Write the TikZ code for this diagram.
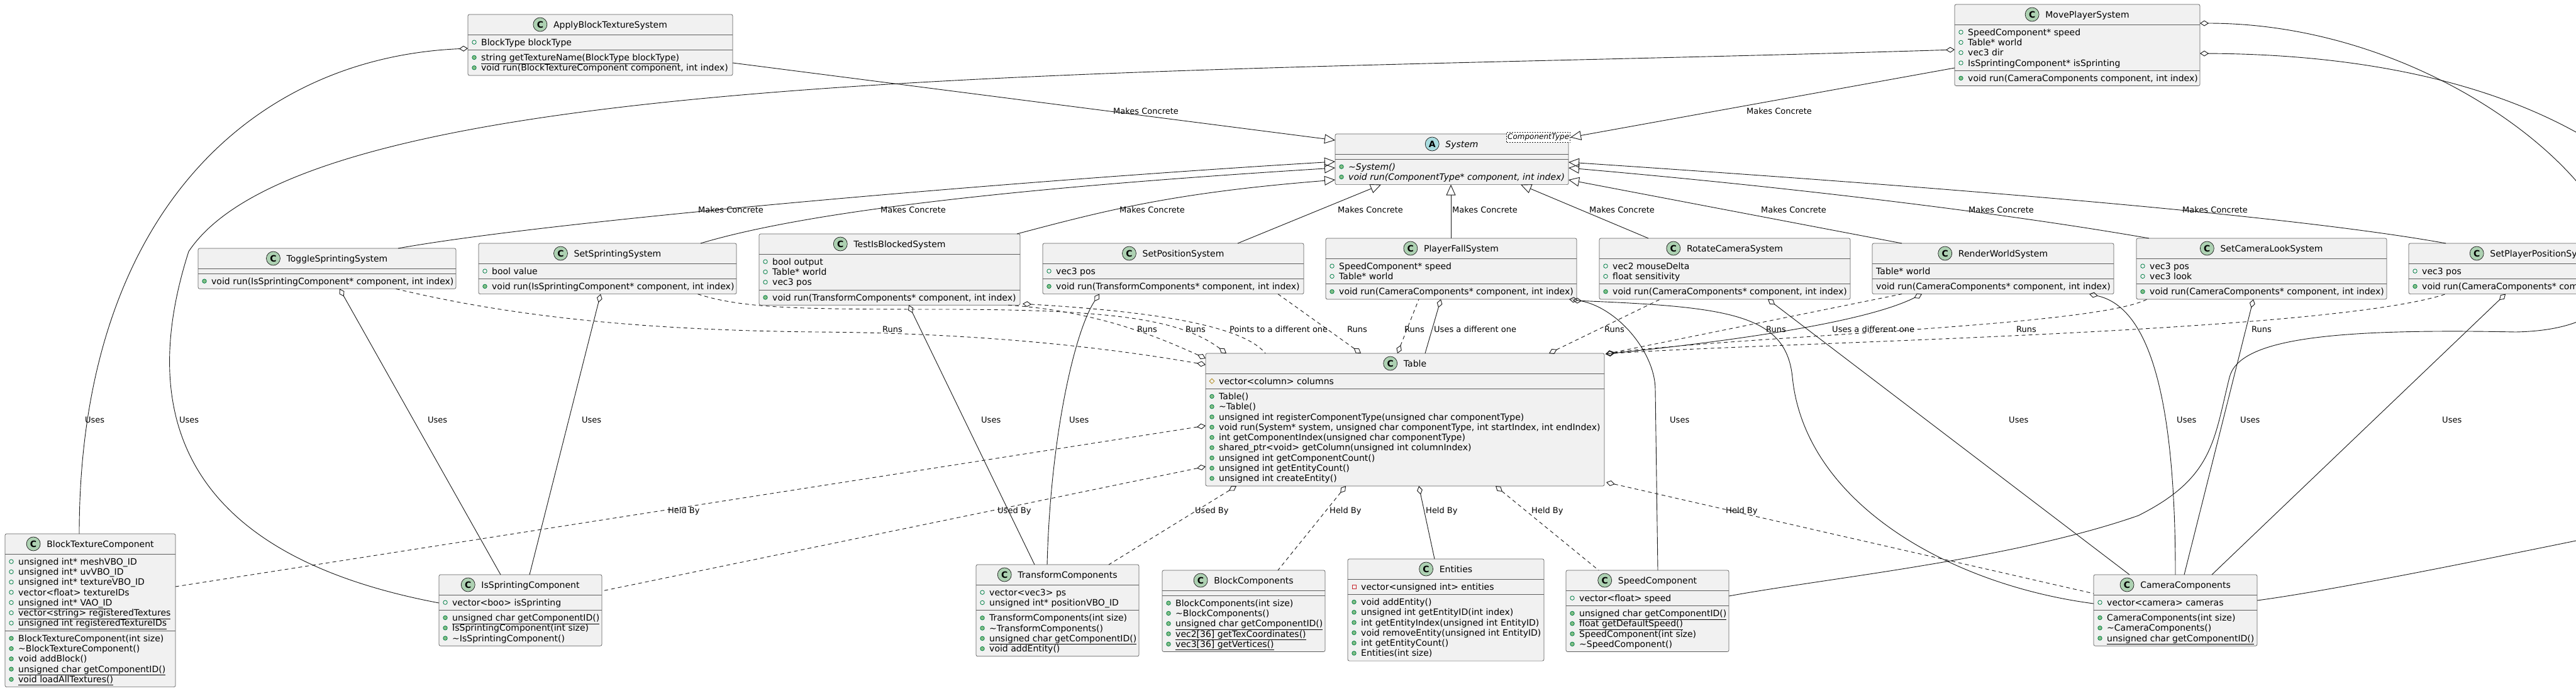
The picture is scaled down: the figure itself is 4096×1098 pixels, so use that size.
\documentclass[tikz,border=0pt]{standalone}
\usepackage{fontspec}
\setmainfont{DejaVu Sans}
\usetikzlibrary{arrows.meta,calc}
\definecolor{boxfill}{HTML}{F1F1F1}
\definecolor{boxline}{HTML}{181818}
\definecolor{cicon}{HTML}{ADD1B2}
\definecolor{aicon}{HTML}{A9DCDF}
\definecolor{publine}{HTML}{038048}
\definecolor{pubfill}{HTML}{84BE84}
\definecolor{privline}{HTML}{C82930}
\definecolor{protline}{HTML}{B38D22}
\newcounter{mrc}
\tikzset{
  classbox/.style={draw=boxline!70, fill=boxfill, line width=0.7pt, rounded corners=2.5pt, inner sep=0pt, outer sep=0pt},
  sepline/.style={draw=boxline!70, line width=0.7pt},
  ttl/.style={font=\fontsize{14}{16}\selectfont, inner sep=0pt, anchor=base},
  mem/.style={font=\fontsize{14}{16}\selectfont, inner sep=0pt, anchor=base west},
  lbl/.style={font=\fontsize{13}{15}\selectfont, inner sep=0pt, anchor=base west},
  iconc/.style={circle, draw=boxline, line width=0.7pt, minimum size=22pt, inner sep=0pt, font=\bfseries\fontsize{14}{14}\selectfont},
  ipa/.style={circle, draw=publine, line width=0.8pt, minimum size=6.5pt, inner sep=0pt},
  ipm/.style={circle, draw=publine, fill=pubfill, line width=0.8pt, minimum size=6.5pt, inner sep=0pt},
  iva/.style={rectangle, draw=privline, line width=0.8pt, minimum size=6pt, inner sep=0pt},
  ira/.style={rectangle, rotate=45, draw=protline, line width=0.8pt, minimum size=5.5pt, inner sep=0pt},
  tplbox/.style={draw=boxline, dash pattern=on 2pt off 2pt, fill=white, anchor=north east, inner xsep=1.5pt, inner ysep=2.5pt, font=\itshape\fontsize{12}{13}\selectfont, line width=0.6pt},
  conn/.style={draw=boxline, line width=0.9pt},
  dsh/.style={dash pattern=on 6pt off 5pt},
  real/.style={conn, -{Triangle[open, length=17pt, width=15pt]}},
  aggr/.style={conn, {Diamond[open, length=14pt, width=9pt]}-},
}
\newcommand{\umlbox}[6]{%
  \pgfmathsetmacro{\ubh}{48+16.3*(#5+#6)}%
  \pgfmathsetmacro{\ubs}{#3+32}%
  \pgfmathsetmacro{\ubt}{#3+40+16.3*#5}%
  \node[classbox, minimum width=#4pt, minimum height=\ubh pt, anchor=north west] (#1) at (#2,#3) {};
  \draw[sepline] (#2,\ubs) -- ++(#4,0);
  \draw[sepline] (#2,\ubt) -- ++(#4,0);
}
\newcommand{\utitle}[4]{%
  \node[ttl] (#1t) at ($(#1.north)+(16,21)$) {#4};
  \node[iconc, fill=#3] (#1c) at ($(#1t.base west)+(-21,-5)$) {#2};
}
\newcommand{\mrow}[4]{%
  \stepcounter{mrc}%
  \node[mem] (m\arabic{mrc}) at ($(#1.north west)+(21,#2+5)$) {#4};
  \node[#3] (i\arabic{mrc}) at ($(#1.north west)+(10,#2)$) {};
}
\newcommand{\prow}[3]{%
  \stepcounter{mrc}%
  \node[mem] (m\arabic{mrc}) at ($(#1.north west)+(6,#2+5)$) {#3};
}
\begin{document}
\begin{tikzpicture}[x=1pt,y=-1pt]
\useasboundingbox (0,0) rectangle (4096,1098);
\clip (0,0) rectangle (4096,1098);
\fill[white] (0,0) rectangle (4096,1098);

% ---------- classes ----------
\umlbox{abt}{744}{23}{421}{1}{2}
\utitle{abt}{C}{cicon}{ApplyBlockTextureSystem}
\mrow{abt}{44.15}{ipa}{BlockType blockType}
\mrow{abt}{68.45}{ipm}{\underline{string getTextureName(BlockType blockType)}}
\mrow{abt}{84.75}{ipm}{void run(BlockTextureComponent component, int index)}

\umlbox{mps}{3108}{7}{390}{4}{1}
\utitle{mps}{C}{cicon}{MovePlayerSystem}
\mrow{mps}{44.15}{ipa}{SpeedComponent* speed}
\mrow{mps}{60.45}{ipa}{Table* world}
\mrow{mps}{76.75}{ipa}{vec3 dir}
\mrow{mps}{93.05}{ipa}{IsSprintingComponent* isSprinting}
\mrow{mps}{117.35}{ipm}{void run(CameraComponents component, int index)}

\umlbox{sys}{2123}{213}{371}{0}{2}
\utitle{sys}{A}{aicon}{\itshape System}
\mrow{sys}{52.15}{ipm}{\itshape\textasciitilde System()}
\mrow{sys}{68.45}{ipm}{\itshape void run(ComponentType* component, int index)}
\node[tplbox] (systpl) at ($(sys.north east)+(3,-3)$) {ComponentType};

\umlbox{tss}{315}{395}{410}{0}{1}
\utitle{tss}{C}{cicon}{ToggleSprintingSystem}
\mrow{tss}{52.15}{ipm}{void run(IsSprintingComponent* component, int index)}

\umlbox{sss}{761}{387}{410}{1}{1}
\utitle{sss}{C}{cicon}{SetSprintingSystem}
\mrow{sss}{44.15}{ipa}{bool value}
\mrow{sss}{68.45}{ipm}{void run(IsSprintingComponent* component, int index)}

\umlbox{tib}{1207}{372}{415}{3}{1}
\utitle{tib}{C}{cicon}{TestIsBlockedSystem}
\mrow{tib}{44.15}{ipa}{bool output}
\mrow{tib}{60.45}{ipa}{Table* world}
\mrow{tib}{76.75}{ipa}{vec3 pos}
\mrow{tib}{101.05}{ipm}{void run(TransformComponents* component, int index)}

\umlbox{sps}{1658}{387}{415}{1}{1}
\utitle{sps}{C}{cicon}{SetPositionSystem}
\mrow{sps}{44.15}{ipa}{vec3 pos}
\mrow{sps}{68.45}{ipm}{void run(TransformComponents* component, int index)}

\umlbox{pfs}{2108}{379}{399}{2}{1}
\utitle{pfs}{C}{cicon}{PlayerFallSystem}
\mrow{pfs}{44.15}{ipa}{SpeedComponent* speed}
\mrow{pfs}{60.45}{ipa}{Table* world}
\mrow{pfs}{84.75}{ipm}{void run(CameraComponents* component, int index)}

\umlbox{rcs}{2543}{379}{399}{2}{1}
\utitle{rcs}{C}{cicon}{RotateCameraSystem}
\mrow{rcs}{44.15}{ipa}{vec2 mouseDelta}
\mrow{rcs}{60.45}{ipa}{float sensitivity}
\mrow{rcs}{84.75}{ipm}{void run(CameraComponents* component, int index)}

\umlbox{rws}{2977}{387}{384}{1}{1}
\utitle{rws}{C}{cicon}{RenderWorldSystem}
\prow{rws}{44.15}{Table* world}
\prow{rws}{68.45}{void run(CameraComponents* component, int index)}

\umlbox{scl}{3397}{379}{398}{2}{1}
\utitle{scl}{C}{cicon}{SetCameraLookSystem}
\mrow{scl}{44.15}{ipa}{vec3 pos}
\mrow{scl}{60.45}{ipa}{vec3 look}
\mrow{scl}{84.75}{ipm}{void run(CameraComponents* component, int index)}

\umlbox{spp}{3830}{387}{400}{1}{1}
\utitle{spp}{C}{cicon}{SetPlayerPositionSystem}
\mrow{spp}{44.15}{ipa}{vec3 pos}
\mrow{spp}{68.45}{ipm}{void run(CameraComponents* component, int index)}

\umlbox{tbl}{1917}{562}{634}{1}{9}
\utitle{tbl}{C}{cicon}{Table}
\mrow{tbl}{44.15}{ira}{vector<column> columns}
\mrow{tbl}{68.45}{ipm}{Table()}
\mrow{tbl}{84.75}{ipm}{\textasciitilde Table()}
\mrow{tbl}{101.05}{ipm}{unsigned int registerComponentType(unsigned char componentType)}
\mrow{tbl}{117.35}{ipm}{void run(System* system, unsigned char componentType, int startIndex, int endIndex)}
\mrow{tbl}{133.65}{ipm}{int getComponentIndex(unsigned char componentType)}
\mrow{tbl}{149.95}{ipm}{shared\_ptr<void> getColumn(unsigned int columnIndex)}
\mrow{tbl}{166.25}{ipm}{unsigned int getComponentCount()}
\mrow{tbl}{182.55}{ipm}{unsigned int getEntityCount()}
\mrow{tbl}{198.85}{ipm}{unsigned int createEntity()}

\umlbox{btc}{8}{849}{271}{7}{5}
\utitle{btc}{C}{cicon}{BlockTextureComponent}
\mrow{btc}{44.15}{ipa}{unsigned int* meshVBO\_ID}
\mrow{btc}{60.45}{ipa}{unsigned int* uvVBO\_ID}
\mrow{btc}{76.75}{ipa}{unsigned int* textureVBO\_ID}
\mrow{btc}{93.05}{ipa}{vector<float> textureIDs}
\mrow{btc}{109.35}{ipa}{\underline{unsigned int* VAO\_ID}}
\mrow{btc}{125.65}{ipa}{\underline{vector<string> registeredTextures}}
\mrow{btc}{141.95}{ipa}{\underline{unsigned int registeredTextureIDs}}
\mrow{btc}{166.25}{ipm}{BlockTextureComponent(int size)}
\mrow{btc}{182.55}{ipm}{\textasciitilde BlockTextureComponent()}
\mrow{btc}{198.85}{ipm}{void addBlock()}
\mrow{btc}{215.15}{ipm}{\underline{unsigned char getComponentID()}}
\mrow{btc}{231.45}{ipm}{\underline{void loadAllTextures()}}

\umlbox{isc}{698}{914}{259}{1}{3}
\utitle{isc}{C}{cicon}{IsSprintingComponent}
\mrow{isc}{44.15}{ipa}{vector<boo> isSprinting}
\mrow{isc}{68.45}{ipm}{\underline{unsigned char getComponentID()}}
\mrow{isc}{84.75}{ipm}{IsSprintingComponent(int size)}
\mrow{isc}{101.05}{ipm}{\textasciitilde IsSprintingComponent()}

\umlbox{tfc}{1552}{898}{259}{2}{4}
\utitle{tfc}{C}{cicon}{TransformComponents}
\mrow{tfc}{44.15}{ipa}{vector<vec3> ps}
\mrow{tfc}{60.45}{ipa}{unsigned int* positionVBO\_ID}
\mrow{tfc}{84.75}{ipm}{TransformComponents(int size)}
\mrow{tfc}{101.05}{ipm}{\textasciitilde TransformComponents()}
\mrow{tfc}{117.35}{ipm}{\underline{unsigned char getComponentID()}}
\mrow{tfc}{133.65}{ipm}{void addEntity()}

\umlbox{bkc}{1848}{907}{259}{0}{5}
\utitle{bkc}{C}{cicon}{BlockComponents}
\mrow{bkc}{52.15}{ipm}{BlockComponents(int size)}
\mrow{bkc}{68.45}{ipm}{\textasciitilde BlockComponents()}
\mrow{bkc}{84.75}{ipm}{\underline{unsigned char getComponentID()}}
\mrow{bkc}{101.05}{ipm}{\underline{vec2[36] getTexCoordinates()}}
\mrow{bkc}{117.35}{ipm}{\underline{vec3[36] getVertices()}}

\umlbox{ent}{2143}{889}{312}{1}{6}
\utitle{ent}{C}{cicon}{Entities}
\mrow{ent}{44.15}{iva}{vector<unsigned int> entities}
\mrow{ent}{68.45}{ipm}{void addEntity()}
\mrow{ent}{84.75}{ipm}{unsigned int getEntityID(int index)}
\mrow{ent}{101.05}{ipm}{int getEntityIndex(unsigned int EntityID)}
\mrow{ent}{117.35}{ipm}{void removeEntity(unsigned int EntityID)}
\mrow{ent}{133.65}{ipm}{int getEntityCount()}
\mrow{ent}{149.95}{ipm}{Entities(int size)}

\umlbox{spc}{2490}{907}{259}{1}{4}
\utitle{spc}{C}{cicon}{SpeedComponent}
\mrow{spc}{44.15}{ipa}{vector<float> speed}
\mrow{spc}{68.45}{ipm}{\underline{unsigned char getComponentID()}}
\mrow{spc}{84.75}{ipm}{\underline{float getDefaultSpeed()}}
\mrow{spc}{101.05}{ipm}{SpeedComponent(int size)}
\mrow{spc}{117.35}{ipm}{\textasciitilde SpeedComponent()}

\umlbox{cam}{3329}{914}{260}{1}{3}
\utitle{cam}{C}{cicon}{CameraComponents}
\mrow{cam}{44.15}{ipa}{vector<camera> cameras}
\mrow{cam}{68.45}{ipm}{CameraComponents(int size)}
\mrow{cam}{84.75}{ipm}{\textasciitilde CameraComponents()}
\mrow{cam}{101.05}{ipm}{\underline{unsigned char getComponentID()}}

% ---------- Makes Concrete ----------
\draw[real] ($(abt.north east)+(0,77)$) -- ($(sys.north west)+(0,10)$);
\draw[real] ($(mps.north west)+(0,101)$) -- (systpl.east);
\draw[real] ($(tss.north west)+(318,0)$) .. controls +(250,-45) and +(-500,30) .. ($(sys.north west)+(0,44)$);
\draw[real] ($(sss.north west)+(353,0)$) .. controls +(200,-60) and +(-400,25) .. ($(sys.north west)+(0,54)$);
\draw[real] ($(tib.north west)+(410,0)$) .. controls +(150,-40) and +(-250,20) .. ($(sys.north west)+(0,73)$);
\draw[real] ($(sps.north west)+(310,0)$) -- ($(sys.south west)+(73,0)$);
\draw[real] ($(pfs.north west)+(199,0)$) -- ($(sys.south west)+(184,0)$);
\draw[real] ($(rcs.north west)+(78,0)$) -- ($(sys.south west)+(295,0)$);
\draw[real] ($(rws.north west)+(47,0)$) -- ($(sys.north east)+(0,73)$);
\draw[real] ($(scl.north west)+(20,0)$) .. controls +(-200,-35) and +(400,35) .. ($(sys.north east)+(0,54)$);
\draw[real] ($(spp.north west)+(59,0)$) .. controls +(-250,-45) and +(600,40) .. ($(sys.north east)+(0,45)$);

% ---------- Uses (aggregation) ----------
\draw[aggr] ($(abt.north west)+(0,54)$) .. controls +(-350,15) and +(0,-500) .. ($(btc.north west)+(118,0)$);
\draw[aggr] ($(mps.north west)+(0,72)$) .. controls (1800,120) and (500,100) .. (300,400) .. controls (220,650) and (280,880) .. ($(isc.north west)+(0,45)$);
\draw[aggr] ($(mps.north east)+(0,30)$) .. controls (4000,37) and (4400,520) .. (4000,528) .. controls (3700,522) and (3560,540) .. (3545,600) .. controls (3520,700) and (3520,760) .. (3400,820) .. controls (3200,890) and (2900,920) .. ($(spc.north east)+(0,41)$);
\draw[aggr] ($(mps.north east)+(0,78)$) .. controls (4500,90) and (4500,800) .. (4096,860) .. controls (3900,900) and (3700,940) .. ($(cam.north east)+(0,41)$);
\draw[aggr] ($(tss.south west)+(225,0)$) -- ($(isc.north west)+(98,0)$);
\draw[aggr] ($(sss.south west)+(194,0)$) -- ($(isc.north west)+(144,0)$);
\draw[aggr] ($(tib.south west)+(238,0)$) -- ($(tfc.north west)+(93,0)$);
\draw[aggr] ($(sps.south west)+(90,0)$) .. controls +(-40,60) and +(5,-200) .. ($(tfc.north west)+(113,0)$);
\draw[aggr] ($(pfs.south east)+(-12,0)$) .. controls +(75,10) and +(0,-60) .. (2632,620) -- ($(spc.north west)+(146,0)$);
\draw[aggr] ($(pfs.south east)+(-6,2)$) .. controls (2750,488) and (2840,500) .. (2850,600) .. controls (2870,800) and (3100,930) .. ($(cam.north west)+(0,46)$);
\draw[aggr] ($(rcs.south west)+(268,0)$) -- ($(cam.north west)+(57,0)$);
\draw[aggr] ($(rws.south west)+(345,0)$) .. controls +(90,20) and +(0,-300) .. ($(cam.north west)+(130,0)$);
\draw[aggr] ($(scl.south west)+(186,0)$) -- ($(cam.north west)+(144,0)$);
\draw[aggr] ($(spp.south west)+(154,0)$) -- ($(cam.north west)+(188,0)$);
\draw[aggr] ($(pfs.south west)+(183,0)$) -- ($(tbl.north west)+(349,0)$);
\draw[aggr] ($(rws.south west)+(79,0)$) .. controls +(-100,50) and +(150,-15) .. ($(tbl.north east)+(2,1)$);
\draw[aggr, dsh] ($(tib.south east)+(4,-2)$) .. controls +(170,10) and +(-40,-50) .. ($(tbl.north west)+(95,0)$);

% ---------- Runs ----------
\draw[aggr, dsh] ($(tbl.north west)+(0,18)$) .. controls (1800,560) and (1600,530) .. (1300,528) .. controls (1000,525) and (800,500) .. ($(tss.south west)+(314,0)$);
\draw[aggr, dsh] ($(tbl.north west)+(33,0)$) .. controls (1880,510) and (1780,492) .. (1500,492) .. controls (1260,492) and (1180,490) .. ($(sss.south west)+(348,0)$);
\draw[aggr, dsh] ($(tbl.north west)+(0,8)$) .. controls (1850,540) and (1750,495) .. ($(tib.south west)+(395,0)$);
\draw[aggr, dsh] ($(tbl.north west)+(247,0)$) -- ($(sps.south west)+(374,0)$);
\draw[aggr, dsh] ($(tbl.north west)+(305,0)$) -- ($(pfs.south west)+(148,0)$);
\draw[aggr, dsh] ($(tbl.north west)+(546,0)$) -- ($(rcs.south west)+(97,0)$);
\draw[aggr, dsh] ($(tbl.north east)+(2,1)$) -- ($(rws.south west)+(47,0)$);
\draw[aggr, dsh] ($(tbl.north east)+(2,1)$) .. controls (2750,535) and (3330,520) .. ($(scl.south west)+(17,0)$);
\draw[aggr, dsh] ($(tbl.north east)+(2,1)$) .. controls (2800,545) and (3700,530) .. ($(spp.south west)+(59,0)$);

% ---------- Held By / Used By ----------
\draw[aggr, dsh] ($(tbl.north west)+(0,115)$) -- ($(btc.north east)+(0,84)$);
\draw[aggr, dsh] ($(tbl.north west)+(0,180)$) -- ($(isc.north east)+(0,26)$);
\draw[aggr, dsh] ($(tbl.south west)+(49,0)$) -- ($(tfc.north west)+(211,0)$);
\draw[aggr, dsh] ($(tbl.south west)+(223,0)$) -- ($(bkc.north west)+(184,0)$);
\draw[aggr] ($(tbl.south west)+(339,0)$) -- ($(ent.north west)+(138,0)$);
\draw[aggr, dsh] ($(tbl.south west)+(461,0)$) -- ($(spc.north west)+(52,0)$);
\draw[aggr, dsh] ($(tbl.south east)+(3,-6)$) -- ($(cam.north west)+(0,30)$);

% ---------- labels ----------
\node[lbl] (lmc1) at (1770,181) {Makes Concrete};
\node[lbl] (lmc2) at (2777,181) {Makes Concrete};
\node[lbl] (lmc3) at (1110,338) {Makes Concrete};
\node[lbl] (lmc4) at (1400,338) {Makes Concrete};
\node[lbl] (lmc5) at (1780,338) {Makes Concrete};
\node[lbl] (lmc6) at (2127,338) {Makes Concrete};
\node[lbl] (lmc7) at (2309,338) {Makes Concrete};
\node[lbl] (lmc8) at (2527,338) {Makes Concrete};
\node[lbl] (lmc9) at (2800,338) {Makes Concrete};
\node[lbl] (lmc10) at (3130,338) {Makes Concrete};
\node[lbl] (lmc11) at (3470,338) {Makes Concrete};
\node[lbl] (lr1) at (1403,528) {Runs};
\node[lbl] (lr2) at (1808,528) {Runs};
\node[lbl] (lr3) at (1885,528) {Runs};
\node[lbl] (lr4) at (2142,528) {Runs};
\node[lbl] (lr5) at (2233,528) {Runs};
\node[lbl] (lr6) at (2551,528) {Runs};
\node[lbl] (lr7) at (2808,528) {Runs};
\node[lbl] (lr8) at (3206,528) {Runs};
\node[lbl] (lr9) at (3580,528) {Runs};
\node[lbl] (lpd) at (1955,528) {Points to a different one};
\node[lbl] (lud1) at (2280,528) {Uses a different one};
\node[lbl] (lud2) at (2913,528) {Uses a different one};
\node[lbl] (lu1) at (2655,672) {Uses};
\node[lbl] (lu2) at (3194,672) {Uses};
\node[lbl] (lu3) at (3461,672) {Uses};
\node[lbl] (lu4) at (3562,672) {Uses};
\node[lbl] (lu5) at (3883,672) {Uses};
\node[lbl] (lu6) at (135,672) {Uses};
\node[lbl] (lu7) at (285,672) {Uses};
\node[lbl] (lu8) at (680,672) {Uses};
\node[lbl] (lu9) at (925,672) {Uses};
\node[lbl] (lu10) at (1560,672) {Uses};
\node[lbl] (lu11) at (1700,672) {Uses};
\node[lbl] (lh1) at (1900,816) {Used By};
\node[lbl] (lh2) at (2114,816) {Held By};
\node[lbl] (lh3) at (2267,816) {Held By};
\node[lbl] (lh4) at (2435,816) {Held By};
\node[lbl] (lh5) at (2744,816) {Held By};
\node[lbl] (lh6) at (1062,816) {Held By};
\node[lbl] (lh7) at (1586,816) {Used By};
\end{tikzpicture}
\end{document}
